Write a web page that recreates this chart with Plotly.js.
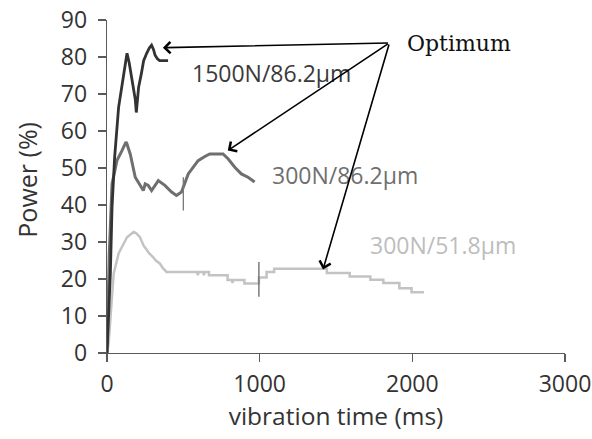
<!DOCTYPE html>
<html>
<head>
<meta charset="utf-8">
<script src="https://cdn.plot.ly/plotly-3.0.1.min.js"></script>
<style>html,body{margin:0;padding:0;background:#fff}#chart{width:592px;height:439px}</style>
</head>
<body>
<div id="chart"></div>
<script>
// Series: 1500N / 86.2 µm
const t1500 = [0, 22, 33, 50, 76, 103, 131, 145, 163, 185, 192, 198, 207, 225, 240, 260, 278, 292, 305, 315, 330, 345, 400];
const p1500 = [0, 21.5, 39.4, 52.9, 66.4, 73.6, 81, 78.5, 73.6, 68.6, 65, 68.5, 71.8, 75.5, 79, 81, 82.5, 83.2, 82, 80.5, 79.5, 79, 79];

// Series: 300N / 86.2 µm
const t300a = [0, 15, 33, 65, 98, 124, 129, 152, 185, 218, 238, 250, 270, 292, 310, 336, 379, 423, 455, 488, 532, 597, 641, 673, 760, 793, 837, 880, 924, 967];
const p300a = [0, 26.9, 45.7, 52, 54.7, 57, 56.7, 53.8, 47.5, 45.3, 43.9, 45.7, 45.3, 43.9, 45, 46.6, 45.3, 43.5, 42.6, 43.5, 48.4, 52, 53.1, 53.8, 53.8, 52.5, 50.2, 48.4, 47.5, 46.2];

// Series: 300N / 51.8 µm
const t300b = [0, 11, 28, 44, 76, 107, 131, 174, 190, 216, 240, 255, 275, 300, 320, 346, 365, 390,
  590, 595, 600, 630, 635, 640, 668, 668, 790, 790, 820, 822, 826, 900, 900, 995, 995, 1045, 1045, 1095, 1095,
  1440, 1440, 1590, 1590, 1725, 1725, 1810, 1810, 1915, 1915, 1995, 1995, 2076];
const p300b = [0, 2.7, 12.5, 21.5, 26.9, 29.5, 31.3, 32.7, 32.4, 31.3, 29, 28.2, 27, 26, 25, 24.2, 23, 21.9,
  21.9, 21, 21.9, 21.9, 21, 21.9, 21.9, 21, 21, 19.7, 19.7, 18.9, 19.7, 19.7, 18.8, 18.8, 20.4, 20.4, 21.9, 21.9, 22.8,
  22.8, 21.6, 21.6, 20.7, 20.7, 19.8, 19.8, 18.9, 18.9, 17.5, 17.5, 16.4, 16.4];

// Small vertical marks on the curves
const mark1X = [500, 500];
const mark1Y = [38.5, 47.5];
const mark2X = [995, 995];
const mark2Y = [15.2, 24.6];

// Labels
const seriesLabels = ["1500N/86.2µm", "300N/86.2µm", "300N/51.8µm"];
const labelX = [1078, 1562, 2203];
const labelY = [75.7, 48, 29.1];
const labelColors = ["#3a3a3a", "#6f6f6f", "#bdbdbd"];

const optimumText = "Optimum";
const optimumPos = [2307, 83.6];
const arrowTail = [1850, 83.8];
const arrowTipX = [366, 791, 1415];
const arrowTipY = [82.5, 54.7, 22.6];

const xTicks = [0, 1000, 2000, 3000];
const yTicks = [0, 10, 20, 30, 40, 50, 60, 70, 80, 90];
const xTitle = 'vibration time (ms)';
const yTitle = 'Power (%)';

const font = "'Open Sans', sans-serif";

const traces = [
  {x: t300b, y: p300b, mode: 'lines', line: {color: '#c3c3c3', width: 2.5}, hoverinfo: 'skip'},
  {x: mark2X, y: mark2Y, mode: 'lines', line: {color: '#666', width: 1.3}, hoverinfo: 'skip'},
  {x: t300a, y: p300a, mode: 'lines', line: {color: '#6f6f6f', width: 3}, hoverinfo: 'skip'},
  {x: mark1X, y: mark1Y, mode: 'lines', line: {color: '#777', width: 1.3}, hoverinfo: 'skip'},
  {x: t1500, y: p1500, mode: 'lines', line: {color: '#333', width: 2.8}, hoverinfo: 'skip'}
];

const annotations = [];
for (let i = 0; i < seriesLabels.length; i++) {
  annotations.push({x: labelX[i], y: labelY[i], xref: 'x', yref: 'y', text: seriesLabels[i],
    showarrow: false, font: {family: font, size: 23, color: labelColors[i]}});
}
annotations.push({x: optimumPos[0], y: optimumPos[1], xref: 'x', yref: 'y', text: optimumText,
  showarrow: false, font: {family: "'DejaVu Serif', serif", size: 22, color: '#111'}});
for (let i = 0; i < arrowTipX.length; i++) {
  annotations.push({x: arrowTipX[i], y: arrowTipY[i], xref: 'x', yref: 'y',
    ax: arrowTail[0], ay: arrowTail[1], axref: 'x', ayref: 'y', text: '',
    showarrow: true, arrowhead: 4, arrowsize: 1.4, arrowwidth: 1.6, arrowcolor: '#000', standoff: 0, startstandoff: 0});
}
annotations.push({x: -0.175, y: 0.52, xref: 'paper', yref: 'paper', xanchor: 'center', yanchor: 'middle',
  text: yTitle, textangle: -90, showarrow: false, font: {family: font, size: 25, color: '#333'}});

const layout = {
  width: 592, height: 439,
  margin: {l: 107, r: 27, t: 20, b: 86},
  paper_bgcolor: '#fff', plot_bgcolor: '#fff',
  showlegend: false,
  font: {family: font, color: '#333'},
  xaxis: {range: [0, 3000], tickvals: xTicks, ticktext: xTicks.map(String), showgrid: false, zeroline: false,
    showline: true, linecolor: '#5a5a5a', linewidth: 1.3, ticks: 'outside', ticklen: 8, tickcolor: '#5a5a5a', tickwidth: 1.3,
    tickfont: {family: font, size: 23, color: '#333'}, ticklabelstandoff: 2,
    title: {text: xTitle, font: {family: font, size: 24.5, color: '#333'}, standoff: 4}},
  yaxis: {range: [0, 90], tickvals: yTicks, ticktext: yTicks.map(String), showgrid: false, zeroline: false,
    showline: true, linecolor: '#5a5a5a', linewidth: 1.3, ticks: 'outside', ticklen: 8, tickcolor: '#5a5a5a', tickwidth: 1.3,
    tickfont: {family: font, size: 23, color: '#333'}, ticklabelstandoff: 6},
  annotations: annotations
};

Plotly.newPlot('chart', traces, layout, {staticPlot: true, displayModeBar: false});
</script>
</body>
</html>
